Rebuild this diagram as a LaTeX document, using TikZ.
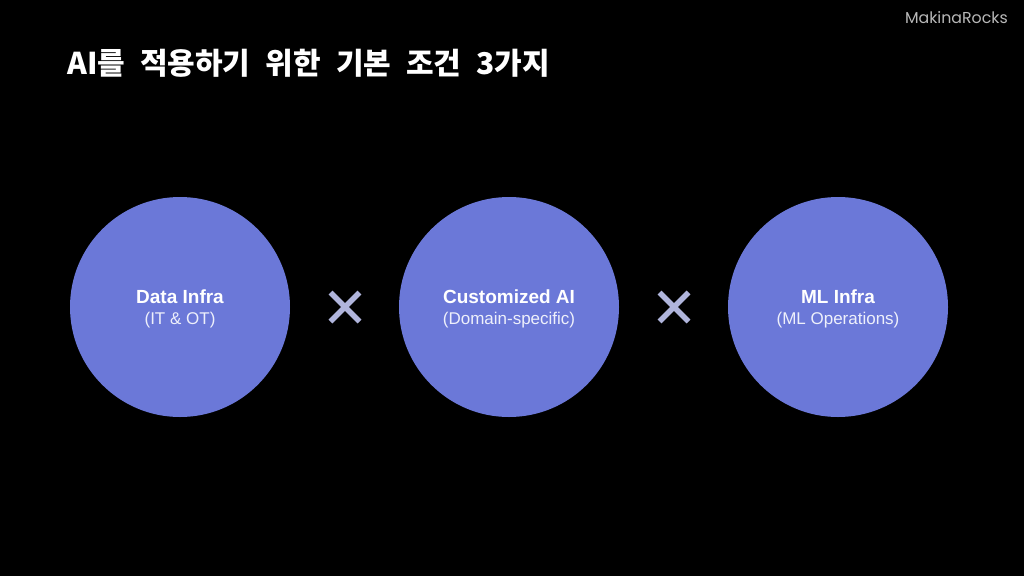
\documentclass[tikz,border=0pt]{standalone}
\usepackage{fontspec}
\setmainfont{Liberation Sans}
\newfontfamily\cjk{Noto Sans CJK KR}[WordSpace=2.2]
\newfontfamily\logofont{Poppins}
\definecolor{circ}{HTML}{6B78D8}
\definecolor{crossc}{HTML}{B0B5DC}
\definecolor{subc}{HTML}{EEF0FB}
\tikzset{
  disc/.style={circle,fill=circ,draw=none,minimum size=220pt,inner sep=0pt},
  crossmark/.style={draw=crossc,line width=5.5pt},
  titlet/.style={text=white,anchor=west,inner sep=0pt,font=\cjk\bfseries\fontsize{30pt}{33pt}\selectfont},
  mainl/.style={text=white,inner sep=0pt,font=\bfseries\fontsize{19pt}{21pt}\selectfont},
  subl/.style={text=subc,inner sep=0pt,font=\fontsize{17pt}{19pt}\selectfont}
}
\begin{document}
\begin{tikzpicture}[x=1pt,y=-1pt]
\useasboundingbox (0,0) rectangle (1024,576);
\fill[black] (0,0) rectangle (1024,576);
\node[titlet] (title) at (67,63) {AI를 적용하기 위한 기본 조건 3가지};
\node[text=white!72!black,anchor=east,inner sep=0pt,font=\logofont\fontsize{15.8pt}{17pt}\selectfont] (logo) at (1008,17.5) {MakinaRocks};
\node[disc] (c1) at (180,307) {};
\node[disc] (c2) at (509,307) {};
\node[disc] (c3) at (838,307) {};
\node[mainl] (t1) at (180,297) {Data Infra};
\node[subl] (s1) at (180,320) {(IT \& OT)};
\node[mainl] (t2) at (509,297) {Customized AI};
\node[subl] (s2) at (509,320) {(Domain-specific)};
\node[mainl] (t3) at (838,297) {ML Infra};
\node[subl] (s3) at (838,320) {(ML Operations)};
\coordinate (x1a) at (330.5,292.5); \coordinate (x1b) at (359.5,321.5);
\coordinate (x1c) at (330.5,321.5); \coordinate (x1d) at (359.5,292.5);
\coordinate (x2a) at (659.5,292.5); \coordinate (x2b) at (688.5,321.5);
\coordinate (x2c) at (659.5,321.5); \coordinate (x2d) at (688.5,292.5);
\draw[crossmark] (x1a) -- (x1b);
\draw[crossmark] (x1c) -- (x1d);
\draw[crossmark] (x2a) -- (x2b);
\draw[crossmark] (x2c) -- (x2d);
\end{tikzpicture}
\end{document}
